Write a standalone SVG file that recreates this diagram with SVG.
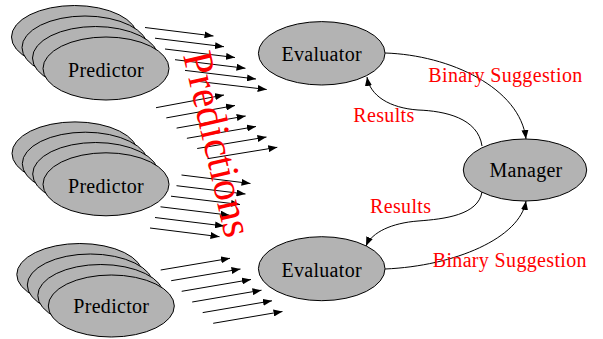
<svg xmlns="http://www.w3.org/2000/svg" width="603" height="339" viewBox="0 0 603 339">
<style>
  .node { fill: #b3b3b3; stroke: #000; stroke-width: 1; }
  text { font-family: 'Liberation Serif', 'Times New Roman', serif; font-size: 20px; }
  .lbl { fill: #000; text-anchor: middle; letter-spacing: 0.3px; }
  .red { fill: #ff0000; letter-spacing: 0.35px; }
  .arr { stroke: #000; stroke-width: 1; fill: none; marker-end: url(#ah); }
</style>
<defs>
  <marker id="ah" markerUnits="userSpaceOnUse" markerWidth="9" markerHeight="7" refX="9" refY="3.5" orient="auto">
    <path d="M0,0 L9,3.5 L0,7 z" fill="#000"/>
  </marker>
</defs>
<rect width="603" height="339" fill="#fff"/>

<g id="predictor1">
  <ellipse class="node" cx="74.5" cy="37" rx="63" ry="31.5"/>
  <ellipse class="node" cx="85" cy="47.5" rx="63" ry="31.5"/>
  <ellipse class="node" cx="95.5" cy="58" rx="63" ry="31.5"/>
  <ellipse class="node" cx="106" cy="68.5" rx="63" ry="31.5"/>
  <text class="lbl" x="106" y="76.5">Predictor</text>
</g>
<g id="predictor2">
  <ellipse class="node" cx="75" cy="153.4" rx="63" ry="31.5"/>
  <ellipse class="node" cx="85.3" cy="163.7" rx="63" ry="31.5"/>
  <ellipse class="node" cx="95.7" cy="174" rx="63" ry="31.5"/>
  <ellipse class="node" cx="106" cy="184.3" rx="63" ry="31.5"/>
  <text class="lbl" x="106" y="192.5">Predictor</text>
</g>
<g id="predictor3">
  <ellipse class="node" cx="79.8" cy="274.5" rx="63" ry="31"/>
  <ellipse class="node" cx="90.3" cy="285" rx="63" ry="31"/>
  <ellipse class="node" cx="100.8" cy="295.5" rx="63" ry="31"/>
  <ellipse class="node" cx="111.3" cy="306" rx="63" ry="31"/>
  <text class="lbl" x="111.3" y="313">Predictor</text>
</g>
<g id="evaluator1">
  <ellipse class="node" cx="321.7" cy="53.3" rx="63.3" ry="31.7"/>
  <text class="lbl" x="321.7" y="61">Evaluator</text>
</g>
<g id="evaluator2">
  <ellipse class="node" cx="321.7" cy="268.7" rx="63.3" ry="32"/>
  <text class="lbl" x="321.7" y="276.7">Evaluator</text>
</g>
<g id="manager">
  <ellipse class="node" cx="525" cy="170" rx="61.7" ry="31"/>
  <text class="lbl" x="526" y="176.7">Manager</text>
</g>

<g id="connectors">
  <line class="arr" x1="145" y1="27.5" x2="213.5" y2="36"/>
  <line class="arr" x1="155" y1="38.2" x2="224" y2="46.7"/>
  <line class="arr" x1="165" y1="49" x2="235" y2="57.5"/>
  <line class="arr" x1="175" y1="59.7" x2="245.5" y2="68.3"/>
  <line class="arr" x1="185" y1="70.4" x2="256" y2="79"/>
  <line class="arr" x1="195" y1="81" x2="266.7" y2="89.5"/>
  <line class="arr" x1="156" y1="107.7" x2="224" y2="95"/>
  <line class="arr" x1="166.3" y1="117.9" x2="235" y2="105.5"/>
  <line class="arr" x1="176.6" y1="128.1" x2="245.7" y2="116"/>
  <line class="arr" x1="186.9" y1="138.3" x2="256" y2="126.5"/>
  <line class="arr" x1="197.2" y1="148.5" x2="266.5" y2="137"/>
  <line class="arr" x1="207.5" y1="158.7" x2="277.3" y2="147.3"/>
  <line class="arr" x1="181.5" y1="175" x2="250.5" y2="183.5"/>
  <line class="arr" x1="176.5" y1="185.7" x2="245.5" y2="194"/>
  <line class="arr" x1="171" y1="196.2" x2="240" y2="204.5"/>
  <line class="arr" x1="160.5" y1="206.8" x2="229.5" y2="215.2"/>
  <line class="arr" x1="155" y1="217.5" x2="224" y2="226"/>
  <line class="arr" x1="150" y1="228" x2="219.5" y2="236.7"/>
  <line class="arr" x1="160.7" y1="270" x2="230" y2="258.3"/>
  <line class="arr" x1="171.2" y1="280.7" x2="240.5" y2="269"/>
  <line class="arr" x1="181.7" y1="291.3" x2="251" y2="279.5"/>
  <line class="arr" x1="192.2" y1="302" x2="261.5" y2="290.2"/>
  <line class="arr" x1="202.7" y1="312.6" x2="272" y2="300.8"/>
  <line class="arr" x1="213.2" y1="323.3" x2="282.5" y2="311.5"/>
  <path class="arr" d="M385,53 C450,55 520,88 526,139"/>
  <path class="arr" d="M482,146 C478,118 445,111 418,110 C390,108 370,96 367,77"/>
  <path class="arr" d="M482,192 C478,215 445,219 418,221 C392,223 372,232 366,246"/>
  <path class="arr" d="M385,269 C455,266 520,238 526,201"/>
</g>

<g id="labels">
  <text class="red" x="428.3" y="81.7">Binary Suggestion</text>
  <text class="red" x="353.3" y="121.7">Results</text>
  <text class="red" x="370" y="213.3">Results</text>
  <text class="red" x="432.7" y="266.7">Binary Suggestion</text>
  <text class="red" transform="translate(183,55) rotate(77)" style="font-size:42px;letter-spacing:0">Predictions</text>
</g>
</svg>
